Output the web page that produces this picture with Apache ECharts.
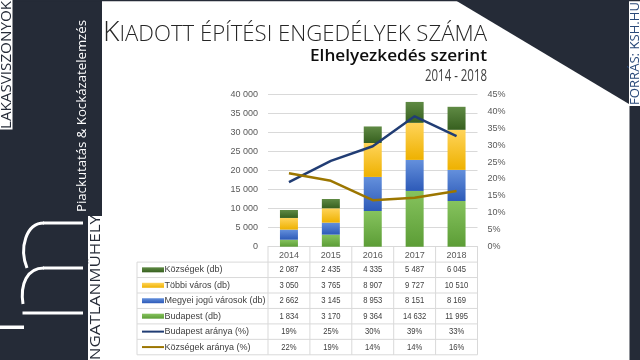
<!DOCTYPE html>
<html><head><meta charset="utf-8">
<script src="https://cdn.jsdelivr.net/npm/echarts@6/dist/echarts.min.js"></script>
<style>html,body{margin:0;padding:0;background:#fff}#c{width:640px;height:360px}</style>
</head><body><div id="c"></div>
<script>
// ---- data ----
const years = ['2014', '2015', '2016', '2017', '2018'];
const kozsegek = [2087, 2435, 4335, 5487, 6045];
const tobbiVaros = [3050, 3765, 8907, 9727, 10510];
const megyeiJogu = [2662, 3145, 8953, 8151, 8169];
const budapest = [1834, 3170, 9364, 14632, 11995];
const budapestShare = [19.04, 25.33, 29.67, 38.51, 32.67];
const kozsegekShare = [21.67, 19.46, 13.74, 14.44, 16.46];
const seriesNames = ['Községek (db)', 'Többi város (db)', 'Megyei jogú városok (db)', 'Budapest (db)', 'Budapest aránya (%)', 'Községek aránya (%)'];
const leftTicks = [0, 40000, 5000];
const rightTicks = [0, 45, 5];

const DARK = '#252b37';
const fmt = v => String(v).replace(/\B(?=(\d{3})+(?!\d))/g, ' ');
const grad = (a, b) => new echarts.graphic.LinearGradient(0, 0, 0, 1, [{offset: 0, color: a}, {offset: 1, color: b}]);
const C = {
  koz: grad('#5f8a44', '#37601f'),
  tob: grad('#ffd45a', '#eeb100'),
  meg: grad('#6490dc', '#2d5ab8'),
  bud: grad('#86c35e', '#5c9d36'),
  bpl: '#213d74',
  kzl: '#9c7600'
};

const measure = (() => { const ctx = document.createElement('canvas').getContext('2d'); return (t, f) => { ctx.font = f; return ctx.measureText(t).width; }; })();
function fitText(text, x, y, size, weight, family, target, color) {
  const font = weight + ' ' + size + 'px ' + family;
  const w = measure(text, font);
  return {type: 'text', x: x, y: y, scaleX: target / w, style: {text: text, font: font, fill: color, textAlign: 'left', textVerticalAlign: 'middle', verticalAlign: 'middle'}, z: 10};
}
function fitVText(text, x, yStart, size, weight, family, target, color) {
  const font = weight + ' ' + size + 'px ' + family;
  const w = measure(text, font);
  return {type: 'text', x: x, y: yStart, rotation: Math.PI / 2, scaleX: target / w, style: {text: text, font: font, fill: color, textAlign: 'left', textVerticalAlign: 'middle', verticalAlign: 'middle'}, z: 10};
}

const G = {left: 268, top: 94.3, width: 209.5, height: 152.4};
const chart = echarts.init(document.getElementById('c'), null, {renderer: 'canvas'});

const g = [];
// decoration
g.push({type: 'rect', shape: {x: 0, y: 0, width: 102, height: 360}, style: {fill: DARK}, z: 1});
g.push({type: 'rect', shape: {x: 0, y: 0, width: 640, height: 1.2}, style: {fill: DARK}, z: 1});
g.push({type: 'polygon', shape: {points: [[455, 0], [629, 0], [629, 104]]}, style: {fill: DARK}, z: 1});
g.push({type: 'rect', shape: {x: 629.5, y: 106, width: 11, height: 254}, style: {fill: DARK}, z: 1});
g.push({type: 'rect', shape: {x: 0, y: 0, width: 12.5, height: 129.5}, style: {fill: '#ffffff'}, z: 2});
g.push({type: 'rect', shape: {x: 88, y: 216, width: 15, height: 144}, style: {fill: '#ffffff'}, z: 2});
g.push(fitVText('LAKÁSVISZONYOK', 6.6, 129, 15, 400, '"Open Sans"', 128, DARK));
g.push(fitVText('INGATLANMŰHELY', 95.5, 365, 15, 400, '"Open Sans"', 150, DARK));
g.push(fitVText('Piackutatás & Kockázatelemzés', 82, 212, 13, 400, '"Open Sans"', 192, '#ffffff'));
g.push(fitVText('FORRÁS: KSH.HU', 635.2, 105, 13, 400, '"Open Sans"', 103, '#2a4a7a'));
// lm logo
const W = '#ffffff';
const ln = (x1, y1, x2, y2) => ({type: 'line', shape: {x1, y1, x2, y2}, style: {stroke: W, lineWidth: 3}, z: 5});
const bz = (x1, y1, c1x, c1y, c2x, c2y, x2, y2) => ({type: 'bezierCurve', shape: {x1, y1, cpx1: c1x, cpy1: c1y, cpx2: c2x, cpy2: c2y, x2, y2}, style: {stroke: W, lineWidth: 3, fill: null}, z: 5});
g.push({type: 'rect', shape: {x: 0, y: 325.5, width: 24, height: 3.5}, style: {fill: W}, z: 5});
g.push(ln(22.5, 313, 83, 313));
g.push(bz(23, 304, 20, 284, 27, 268, 44, 268));
g.push(ln(43, 268, 83, 268));
g.push(bz(27, 268, 19, 248, 26, 223, 44, 223));
g.push(ln(43, 223, 83, 223));
// titles
(function () {
  const fam = '"Open Sans"';
  const fK = '300 28px ' + fam, fR = '300 22px ' + fam;
  const rest = 'IADOTT ÉPÍTÉSI ENGEDÉLYEK SZÁMA';
  const wK = measure('K', fK), wR = measure(rest, fR);
  const s = 384 / (wK + wR);
  g.push({type: 'text', x: 103, y: 43 - 0.36 * 28, scaleX: s, style: {text: 'K', font: fK, fill: '#262626', textAlign: 'left', textVerticalAlign: 'middle', verticalAlign: 'middle'}, z: 10});
  g.push({type: 'text', x: 103 + wK * s, y: 43 - 0.36 * 22, scaleX: s, style: {text: rest, font: fR, fill: '#262626', textAlign: 'left', textVerticalAlign: 'middle', verticalAlign: 'middle'}, z: 10});
})();
g.push(fitText('Elhelyezkedés szerint', 310, 56.5, 17, 600, '"Open Sans"', 177, '#0d0d0d'));
g.push(fitText('2014 - 2018', 425, 76.5, 17, 400, '"Open Sans"', 62, '#404040'));
// table
const colW = G.width / 5;
const tTop = G.top + G.height;
const rowY0 = 262.1, rowH = 15.45;
const tLeft = 137, tRight = G.left + G.width;
const LINE = '#d9d9d9';
for (let k = 0; k <= 6; k++) {
  const y = rowY0 + k * rowH;
  g.push({type: 'line', shape: {x1: tLeft, y1: y, x2: tRight, y2: y}, style: {stroke: LINE, lineWidth: 1}, z: 3});
}
g.push({type: 'line', shape: {x1: tLeft, y1: rowY0, x2: tLeft, y2: rowY0 + 6 * rowH}, style: {stroke: LINE, lineWidth: 1}, z: 3});
for (let i = 0; i <= 5; i++) {
  const x = G.left + colW * i;
  g.push({type: 'line', shape: {x1: x, y1: tTop, x2: x, y2: rowY0 + 6 * rowH}, style: {stroke: LINE, lineWidth: 1}, z: 3});
}
const rowsData = [kozsegek.map(fmt), tobbiVaros.map(fmt), megyeiJogu.map(fmt), budapest.map(fmt),
  budapestShare.map(v => Math.round(v) + '%'), kozsegekShare.map(v => Math.round(v) + '%')];
const keyFill = [C.koz, C.tob, C.meg, C.bud];
const keyLine = [C.bpl, C.kzl];
for (let r = 0; r < 6; r++) {
  const cy = rowY0 + (r + 0.5) * rowH;
  if (r < 4) g.push({type: 'rect', shape: {x: 142, y: cy - 2.5, width: 22, height: 5}, style: {fill: keyFill[r]}, z: 4});
  else g.push({type: 'line', shape: {x1: 142, y1: cy, x2: 164, y2: cy}, style: {stroke: keyLine[r - 4], lineWidth: 2}, z: 4});
  g.push({type: 'text', x: 164.5, y: cy, style: {text: seriesNames[r], font: '9px "Liberation Sans"', fill: '#404040', textAlign: 'left', textVerticalAlign: 'middle', verticalAlign: 'middle'}, z: 10});
  for (let i = 0; i < 5; i++) {
    g.push({type: 'text', x: G.left + colW * (i + 0.5), y: cy, scaleX: 0.85, style: {text: rowsData[r][i], font: '9px "Liberation Sans"', fill: '#404040', textAlign: 'center', textVerticalAlign: 'middle', verticalAlign: 'middle'}, z: 10});
  }
}

const axisTxt = {color: '#595959', fontSize: 9, fontFamily: '"Liberation Sans"'};
chart.setOption({
  backgroundColor: '#ffffff',
  animation: false,
  grid: Object.assign({containLabel: false, outerBoundsMode: 'none'}, G),
  xAxis: {type: 'category', data: years, axisLine: {show: true, lineStyle: {color: LINE}}, axisTick: {show: false},
    axisLabel: Object.assign({margin: 4}, axisTxt)},
  yAxis: [
    {type: 'value', min: leftTicks[0], max: leftTicks[1], interval: leftTicks[2], axisLine: {show: false}, axisTick: {show: false},
      axisLabel: Object.assign({margin: 10, formatter: fmt}, axisTxt), splitLine: {lineStyle: {color: LINE, width: 1}}},
    {type: 'value', min: rightTicks[0], max: rightTicks[1], interval: rightTicks[2], position: 'right', axisLine: {show: false}, axisTick: {show: false},
      axisLabel: Object.assign({margin: 10, formatter: '{value}%'}, axisTxt), splitLine: {show: false}}
  ],
  series: [
    {name: seriesNames[3], type: 'bar', stack: 'a', data: budapest, barWidth: 18, itemStyle: {color: C.bud}},
    {name: seriesNames[2], type: 'bar', stack: 'a', data: megyeiJogu, barWidth: 18, itemStyle: {color: C.meg}},
    {name: seriesNames[1], type: 'bar', stack: 'a', data: tobbiVaros, barWidth: 18, itemStyle: {color: C.tob}},
    {name: seriesNames[0], type: 'bar', stack: 'a', data: kozsegek, barWidth: 18, itemStyle: {color: C.koz}},
    {name: seriesNames[4], type: 'line', yAxisIndex: 1, data: budapestShare, symbol: 'none', lineStyle: {color: C.bpl, width: 2.5}, z: 5},
    {name: seriesNames[5], type: 'line', yAxisIndex: 1, data: kozsegekShare, symbol: 'none', lineStyle: {color: C.kzl, width: 2.5}, z: 5}
  ],
  graphic: g
});
</script></body></html>
